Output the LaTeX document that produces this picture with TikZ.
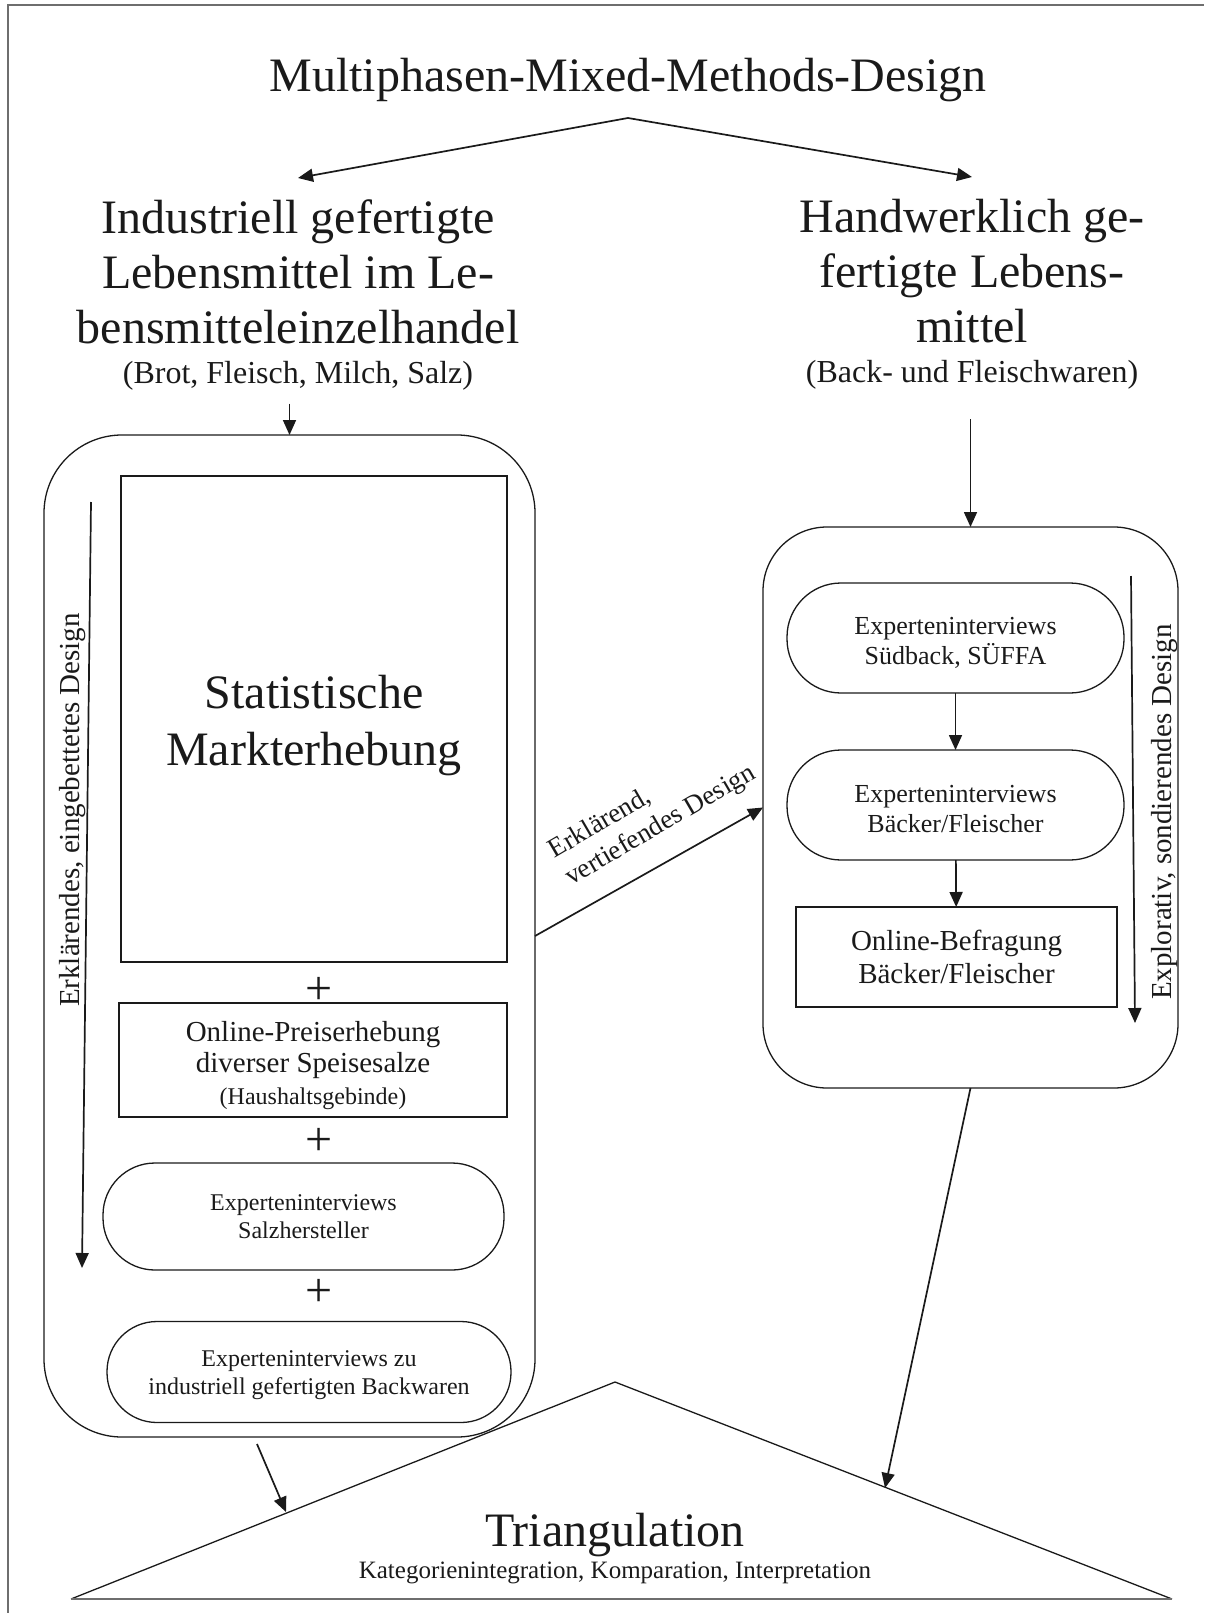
\documentclass[tikz,border=0pt]{standalone}
\usepackage{fontspec}
\setmainfont{Liberation Serif}
\usetikzlibrary{arrows.meta}
\definecolor{ink}{HTML}{1A1A1A}
\definecolor{rulegray}{HTML}{6E6E6E}
\newcommand{\sz}[2]{\fontsize{#1}{#2}\selectfont}

\begin{document}
\begin{tikzpicture}[x=1pt,y=-1pt,
  every node/.style={inner sep=0pt, outer sep=0pt, text=ink},
  frameline/.style={draw=rulegray, line width=1.6pt},
  box/.style={draw=ink, line width=1.3pt, align=center},
  conn/.style={draw=ink, line width=1.7pt, -{Triangle[length=15pt,width=13pt]}},
  plus/.style={font=\sz{48}{52}},
  sidetag/.style={font=\sz{29}{34}, rotate=90, anchor=base},
]
\useasboundingbox (0,0) rectangle (1204,1613);

% page frame
\draw[frameline] (8,1613) -- (8,5) -- (1204,5);

% title and the two branches
\node[font=\sz{48}{55}, anchor=base] (title) at (628,92) {Multiphasen-Mixed-Methods-Design};
\coordinate (split) at (628,118);

\node[font=\sz{48}{55}, align=center, anchor=north] (ind) at (298,200)
  {Industriell gefertigte\\Lebensmittel im Le-\\bensmitteleinzelhandel\\[-15pt]{\sz{32}{38}(Brot, Fleisch, Milch, Salz)}};
\node[font=\sz{48}{55}, align=center, anchor=north] (hand) at (972,199)
  {Handwerklich ge-\\fertigte Lebens-\\mittel\\[-15pt]{\sz{32}{38}(Back- und Fleischwaren)}};

\draw[conn] (split) -- ([yshift=22pt]ind.north);
\draw[conn] (split) -- ([yshift=22pt]hand.north);

% left strand: embedded design
\node[box, rounded corners=78pt, minimum width=491pt, minimum height=1002pt] (leftbox) at (289.5,936) {};
\node[box, minimum width=386pt, minimum height=486pt, font=\sz{48}{57}] (markt) at (314,719)
  {\rule{0pt}{47pt}Statistische\\Markterhebung};
\node[plus] (p1) at (319,991) {+};
\node[box, minimum width=388pt, minimum height=114pt, font=\sz{29}{31}] (preis) at (313,1060)
  {\rule{0pt}{32pt}Online-Preiserhebung\\diverser Speisesalze\\[1pt]{\sz{24}{28}(Haushaltsgebinde)}};
\node[plus] (p2) at (319,1142) {+};
\node[box, rounded corners=52pt, minimum width=401pt, minimum height=107pt, font=\sz{24}{28}] (salz) at (303.5,1216.5)
  {Experteninterviews\\Salzhersteller};
\node[plus] (p3) at (319,1293) {+};
\node[box, rounded corners=50pt, minimum width=404pt, minimum height=101pt, font=\sz{24}{28}] (backw) at (309,1372)
  {\rule{0pt}{22pt}Experteninterviews zu\\industriell gefertigten Backwaren};

\coordinate (ltop) at (91,502);
\coordinate (lbot) at (82,1268);
\draw[conn] (ltop) -- (lbot);
\node[sidetag] (ltag) at (79,810) {Erklärendes, eingebettetes Design};

\draw[conn, shorten <=13pt] (ind.south -| leftbox.north) -- (leftbox.north);

% right strand: exploratory design
\node[box, rounded corners=64pt, minimum width=415pt, minimum height=561pt] (rightbox) at (970.5,807.5) {};
\node[box, rounded corners=54pt, minimum width=337pt, minimum height=110pt, font=\sz{26}{30}] (sued) at (955.5,638)
  {\rule{0pt}{27pt}Experteninterviews\\Südback, SÜFFA};
\node[box, rounded corners=54pt, minimum width=337pt, minimum height=110pt, font=\sz{26}{30}] (baecker) at (955.5,805)
  {\rule{0pt}{26pt}Experteninterviews\\Bäcker/Fleischer};
\node[box, minimum width=321pt, minimum height=100pt, font=\sz{29}{33}] (online) at (956.5,957)
  {Online-Befragung\\Bäcker/Fleischer};
\draw[conn] (sued) -- (baecker);
\draw[conn] (baecker) -- (online);

\coordinate (rtop) at (1131,576);
\coordinate (rbot) at (1135,1023);
\draw[conn] (rtop) -- (rbot);
\node[sidetag] (rtag) at (1171,812) {Explorativ, sondierendes Design};

\draw[conn, shorten <=30pt] (hand.south -| rightbox.north) -- (rightbox.north);

% link between the strands
\draw[conn] (leftbox.east) -- (rightbox.west);
\node[font=\sz{27}{32}, align=left, rotate=30.3, anchor=south west] (dtag) at (574,891)
  {Erklärend,\\vertiefendes Design};

% triangulation
\coordinate (tapex) at (615,1382);
\coordinate (tleft) at (71,1599);
\coordinate (tright) at (1172,1599);
\draw[draw=ink, line width=1.3pt] (tleft) -- (tapex) -- (tright);
\draw[draw=rulegray, line width=1.8pt] (tleft) -- (tright);
\node[font=\sz{48}{55}, anchor=base] (tri) at (615,1546) {Triangulation};
\node[font=\sz{25}{30}, anchor=base] (tricap) at (615,1578) {Kategorienintegration, Komparation, Interpretation};

\coordinate (lout) at (257,1444);
\coordinate (tinL) at (286,1512);
\coordinate (tinR) at (885,1488);
\draw[conn] (lout) -- (tinL);
\draw[conn] (rightbox.south) -- (tinR);
\end{tikzpicture}
\end{document}
